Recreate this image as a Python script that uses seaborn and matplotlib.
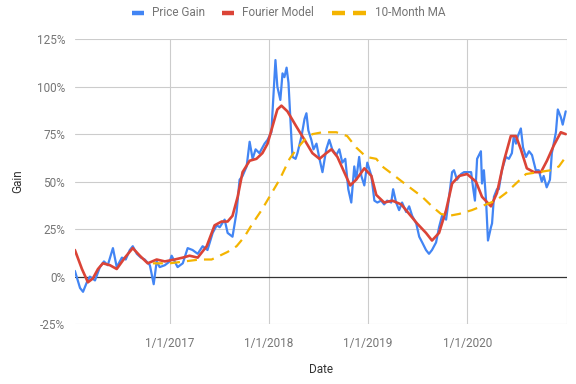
import matplotlib
matplotlib.use("Agg")
import matplotlib.pyplot as plt
from matplotlib.lines import Line2D
from matplotlib.ticker import FuncFormatter
import pandas as pd
import seaborn as sns

# Price gain (%)
price_dates = [
    "2016-01-18", "2016-02-06", "2016-02-17", "2016-03-02", "2016-03-13", "2016-04-01",
    "2016-04-19", "2016-05-04", "2016-05-18", "2016-06-06", "2016-06-20", "2016-07-09",
    "2016-07-23", "2016-08-07", "2016-08-18", "2016-09-02", "2016-09-17", "2016-10-01",
    "2016-10-20", "2016-11-03", "2016-11-14", "2016-11-25", "2016-12-14", "2017-01-01",
    "2017-01-08", "2017-01-30", "2017-02-18", "2017-03-08", "2017-03-26", "2017-04-14",
    "2017-05-02", "2017-05-20", "2017-06-08", "2017-06-23", "2017-07-04", "2017-07-22",
    "2017-08-02", "2017-08-20", "2017-09-04", "2017-09-15", "2017-09-26", "2017-10-11",
    "2017-10-22", "2017-11-02", "2017-11-13", "2017-11-27", "2017-12-16", "2017-12-27",
    "2018-01-10", "2018-01-25", "2018-02-01", "2018-02-12", "2018-02-20", "2018-02-27",
    "2018-03-07", "2018-03-14", "2018-03-25", "2018-03-29", "2018-04-09", "2018-04-16",
    "2018-05-01", "2018-05-12", "2018-05-19", "2018-05-26", "2018-06-06", "2018-06-14",
    "2018-06-25", "2018-07-06", "2018-07-17", "2018-07-31", "2018-08-11", "2018-08-22",
    "2018-09-06", "2018-09-17", "2018-09-28", "2018-10-09", "2018-10-20", "2018-10-31",
    "2018-11-11", "2018-11-18", "2018-11-29", "2018-12-07", "2018-12-18", "2018-12-29",
    "2019-01-13", "2019-01-24", "2019-02-04", "2019-02-18", "2019-03-01", "2019-03-12",
    "2019-03-27", "2019-04-03", "2019-04-14", "2019-04-25", "2019-05-06", "2019-05-21",
    "2019-06-01", "2019-06-12", "2019-06-27", "2019-07-08", "2019-07-19", "2019-08-02",
    "2019-08-13", "2019-08-24", "2019-09-08", "2019-09-19", "2019-09-30", "2019-10-15",
    "2019-10-26", "2019-11-06", "2019-11-13", "2019-11-24", "2019-12-09", "2019-12-20",
    "2019-12-31", "2020-01-15", "2020-01-22", "2020-01-29", "2020-02-06", "2020-02-20",
    "2020-02-24", "2020-03-02", "2020-03-10", "2020-03-17", "2020-03-28", "2020-04-01",
    "2020-04-08", "2020-04-19", "2020-04-26", "2020-05-07", "2020-05-22", "2020-06-02",
    "2020-06-13", "2020-06-20", "2020-06-28", "2020-07-05", "2020-07-16", "2020-07-24",
    "2020-08-04", "2020-08-15", "2020-08-26", "2020-09-09", "2020-09-20", "2020-10-01",
    "2020-10-08", "2020-10-19", "2020-10-31", "2020-11-07", "2020-11-22", "2020-11-29",
    "2020-12-10", "2020-12-17", "2020-12-28",
]
price_gain = [
    3, -6, -8, -3, 0, -2,
    5, 8, 6, 15, 5, 10,
    9, 14, 16, 12, 10, 9,
    6, -4, 8, 5, 6, 8,
    11, 5, 7, 15, 14, 12,
    16, 14, 23, 27, 26, 30,
    23, 21, 34, 51, 53, 58,
    71, 62, 67, 65, 70, 72,
    76, 114, 100, 93, 107, 105,
    110, 102, 72, 63, 62, 65,
    74, 83, 86, 77, 72, 67,
    70, 62, 55, 67, 72, 67,
    64, 67, 60, 62, 46, 39,
    58, 51, 63, 53, 48, 60,
    53, 40, 39, 40, 38, 40,
    39, 46, 39, 35, 39, 34,
    37, 32, 28, 21, 18, 14,
    12, 14, 18, 26, 32, 30,
    42, 55, 56, 51, 54, 55,
    55, 55, 47, 40, 62, 66,
    49, 56, 40, 19, 26, 28,
    42, 46, 46, 56, 63, 62,
    65, 74, 70, 74, 78, 68,
    63, 66, 64, 56, 56, 50,
    53, 47, 51, 65, 76, 88,
    84, 80, 87,
]

# Fourier model fit (%)
fourier_dates = [
    "2016-01-18", "2016-02-13", "2016-03-06", "2016-03-24", "2016-04-12", "2016-04-30",
    "2016-05-26", "2016-06-20", "2016-07-20", "2016-08-18", "2016-09-13", "2016-10-12",
    "2016-11-14", "2016-12-14", "2017-01-19", "2017-02-18", "2017-03-15", "2017-04-14",
    "2017-05-17", "2017-06-15", "2017-07-11", "2017-08-02", "2017-08-20", "2017-09-08",
    "2017-09-26", "2017-10-22", "2017-11-16", "2017-12-08", "2017-12-27", "2018-01-14",
    "2018-02-01", "2018-02-16", "2018-03-10", "2018-04-12", "2018-05-12", "2018-06-10",
    "2018-07-06", "2018-07-31", "2018-08-19", "2018-09-10", "2018-10-05", "2018-10-27",
    "2018-11-18", "2018-12-18", "2019-01-13", "2019-01-31", "2019-03-01", "2019-03-31",
    "2019-05-03", "2019-06-01", "2019-06-30", "2019-08-02", "2019-08-24", "2019-09-19",
    "2019-10-15", "2019-11-06", "2019-12-02", "2019-12-31", "2020-02-02", "2020-02-24",
    "2020-03-28", "2020-04-19", "2020-05-15", "2020-06-09", "2020-06-28", "2020-07-16",
    "2020-08-07", "2020-09-02", "2020-09-28", "2020-10-20", "2020-11-14", "2020-12-10",
    "2020-12-28",
]
fourier_model = [
    14, 4, -3, -1, 4, 7,
    6, 4, 10, 15, 11, 7,
    9, 8, 9, 10, 11, 10,
    16, 27, 29, 29, 32, 42,
    55, 61, 62, 65, 70, 79,
    88, 90, 87, 79, 72, 65,
    62, 65, 67, 63, 55, 48,
    51, 57, 53, 43, 39, 40,
    38, 33, 28, 23, 19, 23,
    35, 49, 53, 54, 50, 42,
    37, 44, 61, 74, 74, 67,
    57, 55, 55, 61, 69, 76,
    75,
]

# 10-month moving average (%)
ma_dates = [
    "2016-10-31", "2017-01-01", "2017-02-25", "2017-04-21", "2017-06-04", "2017-07-04",
    "2017-08-02", "2017-09-04", "2017-10-03", "2017-11-02", "2017-12-05", "2018-01-03",
    "2018-02-09", "2018-03-18", "2018-04-12", "2018-05-12", "2018-06-10", "2018-07-17",
    "2018-09-06", "2018-10-16", "2018-11-18", "2018-12-25", "2019-01-31", "2019-02-22",
    "2019-03-31", "2019-05-06", "2019-06-12", "2019-07-19", "2019-08-24", "2019-09-26",
    "2019-10-26", "2019-12-02", "2020-01-18", "2020-03-10", "2020-04-15", "2020-05-22",
    "2020-06-28", "2020-08-04", "2020-09-20", "2020-11-03", "2020-12-03", "2020-12-28",
]
ma_10 = [
    7, 7, 8, 9, 9, 11,
    13, 16, 21, 28, 35, 42,
    51, 62, 67, 72, 75, 76,
    76, 74, 68, 63, 62, 58,
    54, 50, 46, 42, 37, 33,
    32, 33, 35, 38, 40, 44,
    49, 54, 55, 56, 58, 63,
]

yticks = [-25, 0, 25, 50, 75, 100, 125]
xticks = ["2017-01-01", "2018-01-01", "2019-01-01", "2020-01-01"]
xtick_labels = ["1/1/2017", "1/1/2018", "1/1/2019", "1/1/2020"]
series_names = ["Price Gain", "Fourier Model", "10-Month MA"]

BLUE = "#4285F4"
RED = "#DB4437"
ORANGE = "#F4B400"
GRID = "#cccccc"
TICK_TXT = "#757575"
LABEL_TXT = "#333333"

price_df = pd.DataFrame({"Date": pd.to_datetime(price_dates), "Gain": price_gain})
fourier_df = pd.DataFrame({"Date": pd.to_datetime(fourier_dates), "Gain": fourier_model})
ma_df = pd.DataFrame({"Date": pd.to_datetime(ma_dates), "Gain": ma_10})

sns.set_theme(style="white")
plt.rcParams["font.family"] = ["Roboto", "DejaVu Sans"]

fig, ax = plt.subplots(figsize=(5.76, 3.84), dpi=100)
fig.subplots_adjust(left=0.130, right=0.984, top=0.898, bottom=0.156)

# grid
for y in yticks:
    if y != 0:
        ax.axhline(y, color=GRID, lw=0.8, zorder=0)
for xt in xticks + ["2021-01-01"]:
    ax.axvline(pd.Timestamp(xt), color=GRID, lw=0.8, zorder=0)
ax.axhline(0, color="#333333", lw=0.9, zorder=1)

sns.lineplot(data=price_df, x="Date", y="Gain", ax=ax, color=BLUE, lw=1.6,
             zorder=3, legend=False)
sns.lineplot(data=fourier_df, x="Date", y="Gain", ax=ax, color=RED, lw=1.9,
             zorder=4, legend=False)
sns.lineplot(data=ma_df, x="Date", y="Gain", ax=ax, color=ORANGE, lw=1.6,
             zorder=5, legend=False)
ax.lines[-1].set_dashes([4.5, 3.2])

ax.set_xlim(pd.Timestamp("2016-01-18"), pd.Timestamp("2021-01-01"))
ax.set_ylim(-25, 125)
ax.set_yticks(yticks)
ax.yaxis.set_major_formatter(FuncFormatter(lambda v, p: f"{v:.0f}%"))
ax.set_xticks(pd.to_datetime(xticks))
ax.set_xticklabels(xtick_labels)
ax.tick_params(axis="both", length=0, labelsize=8.5, colors=TICK_TXT, pad=7)
ax.tick_params(axis="x", pad=9)
for s in ax.spines.values():
    s.set_visible(False)

ax.set_xlabel("Date", fontsize=8.5, color=LABEL_TXT, labelpad=10)
ax.set_ylabel("Gain", fontsize=8.5, color=LABEL_TXT, labelpad=9)

# legend drawn Google-Charts style across the top
W, H = 576.0, 384.0
ly = 1 - 13 / H
handles = [[(132, 144)], [(222, 234)], [(332, 345), (353, 366)]]
colors = [BLUE, RED, ORANGE]
text_x = [152, 242, 375]
for segs, c, tx, name in zip(handles, colors, text_x, series_names):
    for x0, x1 in segs:
        fig.add_artist(Line2D([x0 / W, x1 / W], [ly, ly], transform=fig.transFigure,
                              color=c, lw=3.2, solid_capstyle="butt"))
    fig.text(tx / W, ly, name, ha="left", va="center", fontsize=8.5, color=TICK_TXT)

fig.savefig("out.png", dpi=100)
